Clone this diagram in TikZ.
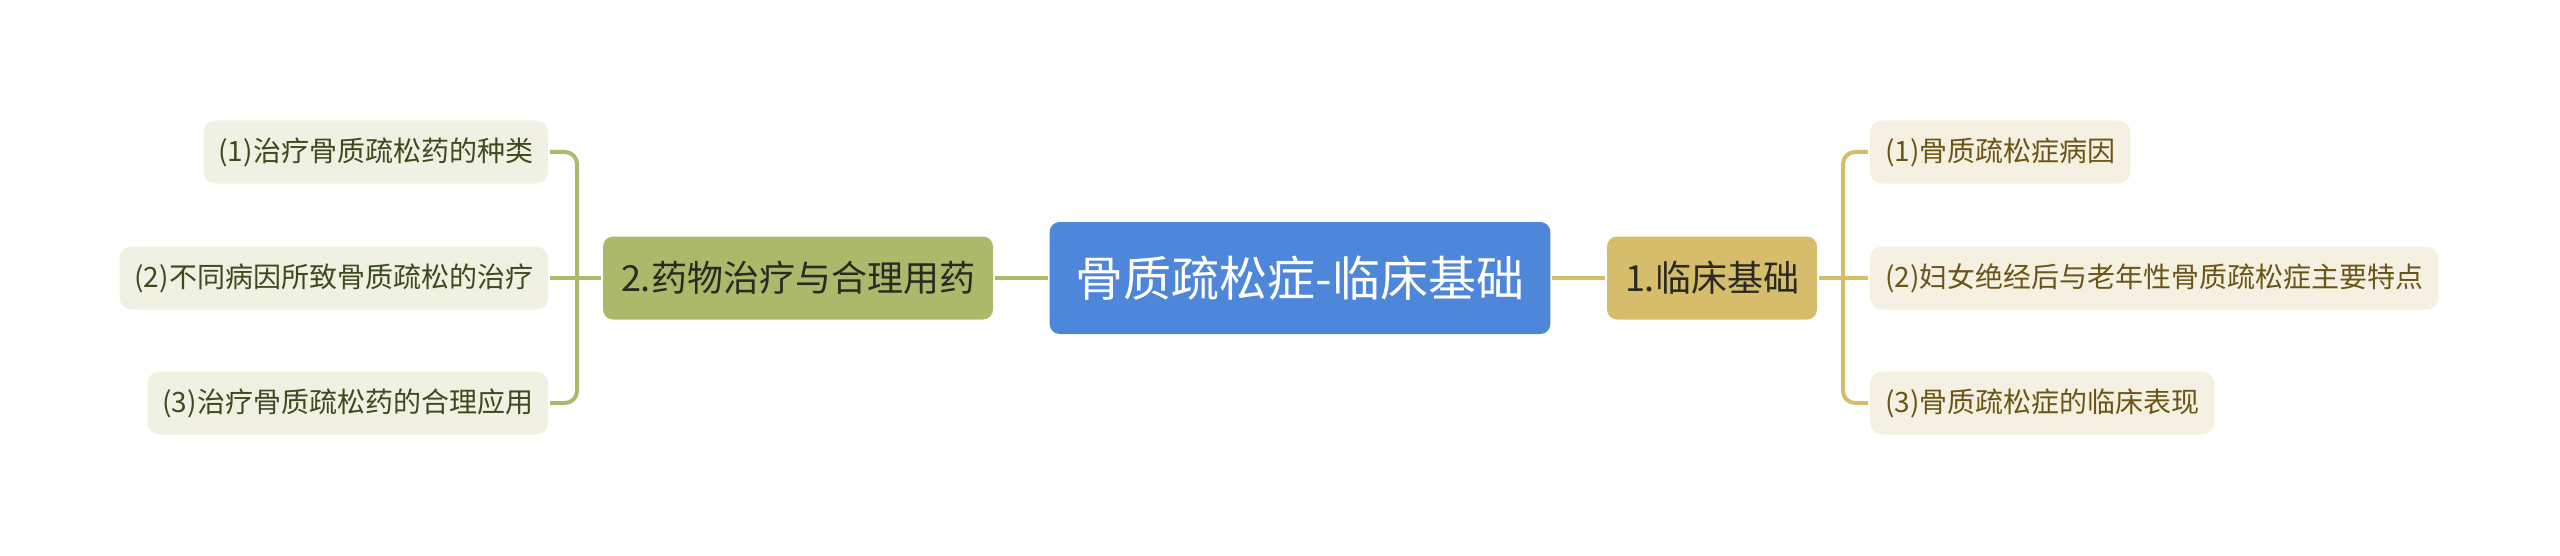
\documentclass[tikz,border=0pt]{standalone}
\usepackage{fontspec}
\setmainfont{Noto Sans CJK SC}
\usepackage{tikz}
\definecolor{rootblue}{HTML}{4E86DA}
\definecolor{goldmain}{HTML}{D5BD6B}
\definecolor{olivemain}{HTML}{ACB86A}
\definecolor{goldleaf}{HTML}{F5F1E2}
\definecolor{oliveleaf}{HTML}{F0F0E3}
\definecolor{goldtext}{HTML}{6B5516}
\definecolor{olivetext}{HTML}{3D4A1E}
\definecolor{maintext}{HTML}{2A2A22}

\begin{document}
\begin{tikzpicture}[x = 0.5pt, y = -0.5pt, line width = 2pt,
                        root/.style = {rectangle, rounded corners = 5pt, fill = rootblue, text = white,
                                       minimum height = 56pt, inner xsep = 13pt,
                                       font = \fontsize{24pt}{28pt}\selectfont},
                        main/.style = {rectangle, rounded corners = 5pt, text = maintext,
                                       minimum height = 41.5pt, inner xsep = 9pt,
                                       font = \fontsize{18pt}{22pt}\selectfont},
                        leaf/.style = {rectangle, rounded corners = 6pt,
                                       minimum height = 31.5pt, inner xsep = 7.5pt,
                                       font = \fontsize{14pt}{17pt}\selectfont}]
      \useasboundingbox (0, 0) rectangle (2560, 556);

      \node [root] (root) at (1300, 278) {骨质疏松症-临床基础};

      \node [main, fill = goldmain, anchor = west] (clinic) at (1605, 278) {1.临床基础};
      \node [main, fill = olivemain, anchor = east] (drug) at (995, 278) {2.药物治疗与合理用药};

      \node [leaf, fill = goldleaf, text = goldtext, anchor = west] (cause) at (1868, 152) {(1)骨质疏松症病因};
      \node [leaf, fill = goldleaf, text = goldtext, anchor = west] (feature) at (1868, 278) {(2)妇女绝经后与老年性骨质疏松症主要特点};
      \node [leaf, fill = goldleaf, text = goldtext, anchor = west] (sign) at (1868, 403) {(3)骨质疏松症的临床表现};

      \node [leaf, fill = oliveleaf, text = olivetext, anchor = east] (kind) at (550, 152) {(1)治疗骨质疏松药的种类};
      \node [leaf, fill = oliveleaf, text = olivetext, anchor = east] (cure) at (550, 278) {(2)不同病因所致骨质疏松的治疗};
      \node [leaf, fill = oliveleaf, text = olivetext, anchor = east] (use) at (550, 403) {(3)治疗骨质疏松药的合理应用};

      \coordinate (rfork) at (1843, 278);
      \coordinate (lfork) at (577, 278);

      \draw [goldmain] (root) -- (clinic);
      \draw [goldmain] (clinic) -- (rfork) -- (feature);
      \draw [goldmain, rounded corners = 6pt] (cause.west) -| (rfork) |- (sign.west);

      \draw [olivemain] (root) -- (drug);
      \draw [olivemain] (drug) -- (lfork) -- (cure);
      \draw [olivemain, rounded corners = 6pt] (kind.east) -| (lfork) |- (use.east);

      \end{tikzpicture}
\end{document}
